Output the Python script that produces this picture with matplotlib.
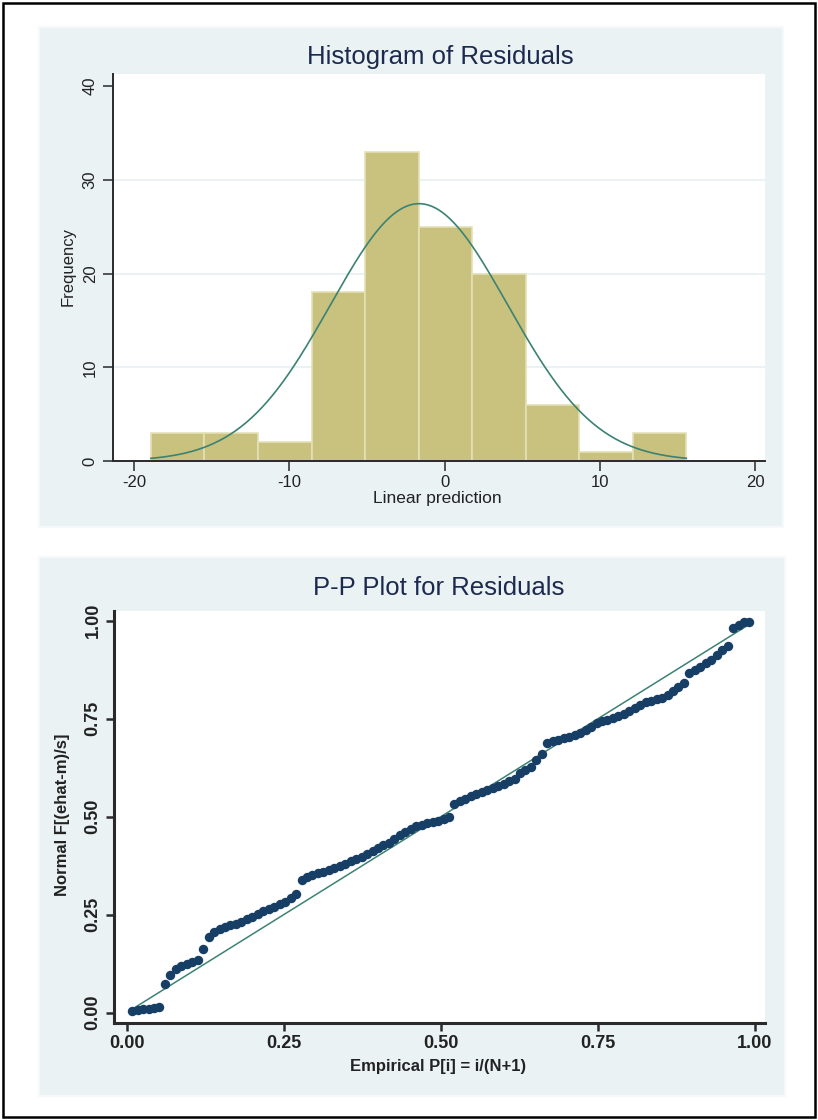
import numpy as np
import matplotlib
matplotlib.use('Agg')
import matplotlib.pyplot as plt
from matplotlib.patches import Rectangle

# ── data ──
BIN_START = -18.92
BIN_WIDTH = 3.448
COUNTS = [3, 3, 2, 18, 33, 25, 20, 6, 1, 3]
NORM_MEAN = -1.65
NORM_SD = 5.71

# P-P plot: Normal F[(ehat-m)/s] for i = 1..N, x = i/(N+1)
PP_Y = [0.004, 0.006, 0.008, 0.010, 0.011, 0.013, 0.072, 0.095, 0.112, 0.118,
        0.124, 0.129, 0.135, 0.163, 0.192, 0.205, 0.213, 0.219, 0.224, 0.226,
        0.232, 0.238, 0.243, 0.252, 0.258, 0.264, 0.270, 0.276, 0.283, 0.292,
        0.303, 0.338, 0.345, 0.350, 0.356, 0.360, 0.364, 0.368, 0.374, 0.380,
        0.386, 0.392, 0.398, 0.405, 0.412, 0.420, 0.428, 0.434, 0.442, 0.452,
        0.460, 0.468, 0.475, 0.480, 0.484, 0.487, 0.490, 0.493, 0.498, 0.532,
        0.540, 0.546, 0.552, 0.557, 0.562, 0.568, 0.574, 0.579, 0.584, 0.590,
        0.596, 0.612, 0.620, 0.628, 0.645, 0.660, 0.688, 0.692, 0.696, 0.700,
        0.704, 0.708, 0.714, 0.720, 0.730, 0.738, 0.744, 0.748, 0.752, 0.758,
        0.762, 0.770, 0.778, 0.786, 0.792, 0.796, 0.800, 0.803, 0.810, 0.822,
        0.832, 0.842, 0.868, 0.875, 0.882, 0.892, 0.900, 0.912, 0.925, 0.935,
        0.982, 0.990, 0.996, 0.998]

HIST_XTICKS = [-20, -10, 0, 10, 20]
HIST_YTICKS = [0, 10, 20, 30, 40]
PP_TICKS = [0.0, 0.25, 0.5, 0.75, 1.0]

# ── style ──
W, H = 818, 1120
PANEL_BG = '#eaf2f3'
BAR_COLOR = '#c9c27e'
BAR_EDGE = '#e4e0b6'
LINE_COLOR = '#3c8273'
MARKER_COLOR = '#173f66'
TITLE_COLOR = '#1c2a4f'
TEXT_COLOR = '#222222'

plt.rcParams['font.family'] = ['Liberation Sans', 'DejaVu Sans']


def fx(x):
    return x / W


def fy(y):
    return 1 - y / H


def axes_px(fig, left, top, right, bottom):
    ax = fig.add_axes([fx(left), fy(bottom), (right - left) / W, (bottom - top) / H])
    ax.set_zorder(2)
    return ax


def panel(fig, left, top, right, bottom):
    fig.patches.append(Rectangle((fx(left), fy(bottom)), (right - left) / W, (bottom - top) / H,
                                 transform=fig.transFigure, facecolor=PANEL_BG,
                                 edgecolor='#f6f9fa', lw=1.5, zorder=-1))


def style_axes(ax, lw, ticklen):
    for s in ['top', 'right']:
        ax.spines[s].set_visible(False)
    for s in ['left', 'bottom']:
        ax.spines[s].set_linewidth(lw)
        ax.spines[s].set_color('#2a2a2a')
    ax.tick_params(direction='out', length=ticklen, width=1.1, color='#2a2a2a',
                   labelcolor=TEXT_COLOR)


fig = plt.figure(figsize=(W / 100, H / 100), dpi=100)

# outer black frame
fig.patches.append(Rectangle((fx(3), fy(1117)), (815 - 3) / W, (1117 - 3) / H,
                             transform=fig.transFigure, facecolor='none',
                             edgecolor='black', lw=1.8, zorder=-1))

# ── histogram panel ──
panel(fig, 39, 27, 783, 527)
ax1 = axes_px(fig, 113, 74, 765, 461)
edges = BIN_START + BIN_WIDTH * np.arange(len(COUNTS) + 1)
ax1.bar(edges[:-1], COUNTS, width=BIN_WIDTH, align='edge', color=BAR_COLOR,
        edgecolor=BAR_EDGE, lw=1.2, zorder=2)
xs = np.linspace(edges[0], edges[-1], 300)
scale = sum(COUNTS) * BIN_WIDTH / (NORM_SD * np.sqrt(2 * np.pi))
ax1.plot(xs, scale * np.exp(-0.5 * ((xs - NORM_MEAN) / NORM_SD) ** 2),
         color=LINE_COLOR, lw=1.2, zorder=3)
for g in HIST_YTICKS[1:-1]:
    ax1.axhline(g, color=PANEL_BG, lw=1.5, zorder=1)
ax1.set_xlim(-21.36, 20.63)
ax1.set_ylim(0, 41.3)
ax1.set_xticks(HIST_XTICKS)
ax1.set_yticks(HIST_YTICKS)
ax1.set_xticklabels([str(t) for t in HIST_XTICKS], fontsize=12)
ax1.set_yticklabels([str(t) for t in HIST_YTICKS], fontsize=12, rotation=90, va='center')
style_axes(ax1, 1.4, 7)
ax1.tick_params(axis='x', pad=3)
ax1.tick_params(axis='y', pad=4)
fig.text(fx(440), fy(57), 'Histogram of Residuals', ha='center', va='center',
         fontsize=18.5, color=TITLE_COLOR)
fig.text(fx(437), fy(498), 'Linear prediction', ha='center', va='center',
         fontsize=12.5, color=TEXT_COLOR)
fig.text(fx(68), fy(267), 'Frequency', ha='center', va='center', rotation=90,
         fontsize=12, color=TEXT_COLOR)

# ── P-P plot panel ──
panel(fig, 39, 557, 785, 1096)
ax2 = axes_px(fig, 114, 611, 765, 1023)
n = len(PP_Y)
pp_x = np.arange(1, n + 1) / (n + 1)
ax2.plot([pp_x[0], pp_x[-1]], [pp_x[0], pp_x[-1]], color=LINE_COLOR, lw=1.1, zorder=2)
ax2.plot(pp_x, PP_Y, 'o', color=MARKER_COLOR, markersize=6.8, markeredgewidth=0, zorder=3)
ax2.set_xlim(-0.0202, 1.016)
ax2.set_ylim(-0.0266, 1.025)
ax2.set_xticks(PP_TICKS)
ax2.set_yticks(PP_TICKS)
ax2.set_xticklabels([f'{t:.2f}' for t in PP_TICKS], fontsize=13, fontweight='bold')
ax2.set_yticklabels([f'{t:.2f}' for t in PP_TICKS], fontsize=13, fontweight='bold',
                    rotation=90, va='center')
style_axes(ax2, 2.2, 6)
ax2.tick_params(axis='both', pad=3, width=1.8)
fig.text(fx(439), fy(588), 'P-P Plot for Residuals', ha='center', va='center',
         fontsize=18.5, color=TITLE_COLOR)
fig.text(fx(438), fy(1067), 'Empirical P[i] = i/(N+1)', ha='center', va='center',
         fontsize=12, fontweight='bold', color=TEXT_COLOR)
fig.text(fx(63), fy(815), 'Normal F[(ehat-m)/s]', ha='center', va='center', rotation=90,
         fontsize=12, fontweight='bold', color=TEXT_COLOR)

fig.savefig('out.png', dpi=100, facecolor='white')
